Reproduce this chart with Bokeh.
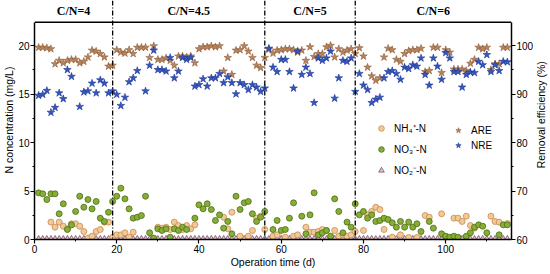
import math
import numpy as np
from bokeh.plotting import figure
from bokeh.layouts import row
from bokeh.models import (Range1d, LinearAxis, Legend, LegendItem, Label, Span,
                          SingleIntervalTicker, ColumnDataSource)
from bokeh.embed import file_html
from bokeh.resources import INLINE

days = list(range(1, 116))

nh4 = [None, None, None, 1.79, 1.27, 1.79, 1.37, 1.10, 1.62, 1.62,
       1.37, 0.82, 0.14, 0.34, 0.82, 1.03, 1.79, 1.79, 0.24, 0.48,
       0.48, 0.69, 0.24, 0.75, None, None, None, None, None, 1.27,
       1.17, 1.27, 1.03, 1.79, 1.44, 1.03, 1.44, 1.10, 1.51, None,
       None, None, None, None, None, 2.30, 1.10, 2.81, None, 0.34,
       None, 0.34, 0.93, 2.20, 2.40, 1.03, None, 0.34, 0.48, None,
       0.24, None, 0.34, 0.48, None, 1.27, 0.75, 0.75, 0.82, 1.03,
       0.93, None, 0.93, 0.34, 0.48, 0.34, 0.48, 0.82, None, 0.93,
       2.54, 2.89, 3.33, 3.09, 1.03, None, 0.24, None, 0.48, None,
       0.20, None, 0.20, None, 2.47, 2.30, None, None, 2.65, None,
       None, 2.20, 2.20, 1.86, 2.40, 1.44, 1.17, None, None, None,
       2.40, 1.86, 1.79, None, 1.65]

no3 = [4.81, 4.71, 4.12, 4.71, 4.71, 2.65, 3.68, 1.03, 1.51, 2.89,
       4.46, 3.33, 4.12, 3.16, 3.92, 2.20, 1.86, 2.81, 3.92, 4.46,
       5.29, 4.19, 3.16, 2.20, 2.30, 2.47, 4.46, 0.69, 0.14, 1.10,
       0.93, 1.10, 0.24, 1.10, 0.93, 1.27, 1.03, None, 2.20, 3.57,
       3.16, 3.68, 3.09, 1.96, 2.54, 1.17, 1.86, 0.58, 4.46, 3.09,
       3.78, 3.92, 2.65, 1.86, 2.30, 2.89, None, 1.03, 1.96, 0.93,
       1.03, 2.20, 3.78, None, 2.40, 0.58, 2.54, 4.81, 0.48, 0.69,
       0.93, 0.34, 4.19, 2.89, 0.69, 1.79, 1.27, 3.68, 2.54, 2.89,
       2.20, 2.54, 1.86, 1.96, 2.20, 2.06, 1.72, 1.27, 1.86, 1.27,
       1.79, 1.27, 1.62, 0.82, None, 1.86, 1.17, None, 0.58, 0.34,
       0.24, 0.34, 0.24, None, 0.34, 0.69, 1.27, 1.51, 1.37, 0.69,
       None, None, 0.48, 1.51, 1.51]

no2 = [0.12, 0.12, 0.11, 0.12, 0.12, 0.12, 0.11, 0.12, 0.12, 0.12,
       0.12, 0.12, 0.11, 0.12, 0.12, 0.12, 0.12, 0.11, 0.12, 0.12,
       0.12, 0.12, 0.12, 0.11, 0.12, 0.12, 0.12, 0.12, 0.12, 0.11,
       0.12, 0.12, 0.12, 0.12, 0.11, 0.12, 0.12, 0.12, 0.12, 0.12,
       0.11, 0.12, 0.12, 0.12, 0.12, 0.12, 0.11, 0.12, 0.12, 0.12,
       0.12, 0.12, 0.11, 0.12, 0.12, 0.12, 0.12, 0.12, 0.11, 0.12,
       0.12, 0.12, 0.12, 0.12, 0.11, 0.12, 0.12, 0.12, 0.12, 0.12,
       0.11, 0.12, 0.12, 0.12, 0.12, 0.12, 0.11, 0.12, 0.12, 0.12,
       0.12, 0.12, 0.11, 0.12, 0.12, 0.12, 0.12, 0.12, 0.11, 0.12,
       0.12, 0.12, 0.12, 0.12, 0.11, 0.12, 0.12, 0.12, 0.12, 0.12,
       0.11, 0.12, 0.12, 0.12, 0.12, 0.12, 0.11, 0.12, 0.12, 0.12,
       0.12, 0.12, 0.11, 0.12, 0.12]

are = [99.6, 99.6, 99.5, 99.3, 96.2, 96.9, 96.4, 96.9, 97.1, 97.1,
       96.4, 96.7, 97.6, 99.0, 98.8, 98.3, 97.6, 95.7, 95.9, 99.1,
       98.6, 98.4, 99.1, 98.3, 99.6, 99.6, 99.6, 97.5, 99.9, 97.1,
       97.1, 97.4, 96.9, 95.9, 97.8, 97.8, 97.6, 97.8, 96.4, 99.3,
       99.7, 99.7, 99.9, 99.7, 99.9, 94.7, 97.5, 94.0, 99.0, 99.1,
       99.9, 98.8, 97.5, 95.9, 95.4, 97.5, 99.2, 98.4, 99.0, 99.1,
       99.3, 99.3, 99.1, 98.6, 99.0, 96.9, 99.7, 97.7, 98.3, 98.3,
       99.7, 100.0, 97.6, 99.3, 98.6, 99.0, 99.3, 98.3, 99.5, 97.8,
       95.5, 93.7, 92.8, 93.3, 97.6, 99.4, 99.1, 97.1, 96.7, 98.3,
       98.9, 99.1, 99.1, 99.4, 94.6, 94.8, 99.6, 99.6, 94.4, 99.1,
       98.6, 95.1, 95.1, 95.1, 94.8, 96.3, 97.1, 99.6, 99.3, 99.6,
       95.0, 96.2, 96.2, 99.6, 99.6]

nre = [89.7, 89.9, 90.7, 86.2, 87.2, 90.2, 89.0, 95.0, 93.6, None,
       87.4, 90.4, 90.6, 92.2, 90.2, 92.9, 92.2, 90.2, 90.6, 89.9,
       87.6, 89.3, 92.5, 93.3, 94.8, None, 90.6, 95.9, 99.0, 95.0,
       95.0, 94.7, 97.5, 93.3, 94.7, 97.5, 97.1, 97.5, 91.6, 91.9,
       93.1, 91.6, 93.3, 93.3, 94.2, 92.3, 93.5, 92.3, 90.0, 92.3,
       91.9, 90.9, 91.9, 91.4, 90.5, 91.2, 99.4, 95.5, 94.6, 97.1,
       97.1, 94.6, 91.2, 98.8, 94.0, 95.5, 94.2, 88.2, 97.4, 96.9,
       97.4, 98.8, 89.1, 93.3, 96.9, 96.7, 97.4, 90.5, 94.2, 91.8,
       90.9, 88.2, 88.9, 89.3, 93.3, 94.6, 94.8, 94.2, 93.0, 95.5,
       95.2, 96.0, 95.7, 97.4, 94.0, 91.8, 97.4, 95.7, 93.0, 98.5,
       97.4, 94.6, 94.6, 91.4, 94.0, 94.5, 94.4, 96.7, 96.0, 98.1,
       94.6, 96.0, 94.8, 96.7, 96.6]

phase_bounds = [0, 19, 56, 78, 116]
phase_labels = ["C/N=4", "C/N=4.5", "C/N=5", "C/N=6"]

conc_axis = (0, 22.4)      # left axis extent (mg/L)
eff_axis = (60, 104.8)     # right axis extent (%)
conc_view_top = 24.64      # frame extends above the axes to hold the phase labels
eff_view_top = eff_axis[0] + (eff_axis[1] - eff_axis[0]) / (conc_axis[1] - conc_axis[0]) * conc_view_top

src = ColumnDataSource(dict(
    day=days,
    nh4=np.array(nh4, dtype=float), no3=np.array(no3, dtype=float),
    no2=np.array(no2, dtype=float), are=np.array(are, dtype=float),
    nre=np.array(nre, dtype=float)))

p = figure(width=536, height=274, output_backend="svg", toolbar_location=None,
           x_range=Range1d(phase_bounds[0], phase_bounds[-1]),
           y_range=Range1d(conc_axis[0], conc_view_top),
           min_border_left=32, min_border_right=21, min_border_top=0,
           min_border_bottom=35)
p.extra_y_ranges = {"eff": Range1d(eff_axis[0], eff_view_top)}
p.xgrid.visible = False
p.ygrid.visible = False
p.outline_line_color = None
p.background_fill_color = "white"
p.border_fill_color = "white"

FONT = "Liberation Sans"

def style_axis(ax, interval):
    ax.ticker = SingleIntervalTicker(interval=interval, num_minor_ticks=2)
    ax.axis_line_width = 1.5
    ax.axis_line_color = "black"
    ax.major_tick_line_color = "black"
    ax.minor_tick_line_color = "black"
    ax.major_tick_line_width = 1.2
    ax.major_tick_out = 4
    ax.major_tick_in = 0
    ax.minor_tick_out = 2
    ax.minor_tick_in = 0
    ax.major_label_text_font = FONT
    ax.major_label_text_font_size = "10px"
    ax.major_label_text_color = "black"
    ax.major_label_standoff = 1
    ax.axis_label_text_font = FONT
    ax.axis_label_text_font_size = "10.5px"
    ax.axis_label_text_font_style = "normal"
    ax.axis_label_text_color = "black"
    ax.axis_label_standoff = 0

style_axis(p.xaxis[0], 20)
p.xaxis[0].axis_label = "Operation time (d)"
style_axis(p.yaxis[0], 5)
p.yaxis[0].axis_label = "N concentration (mg/L)"
p.yaxis[0].bounds = conc_axis

right = LinearAxis(y_range_name="eff")
style_axis(right, 10)
right.bounds = eff_axis
p.add_layout(right, "right")

# top border of the plotting box
p.add_layout(Span(location=conc_axis[1], dimension="width",
                  line_color="black", line_width=1.5))

r_no2 = p.scatter("day", "no2", source=src, marker="triangle", size=5,
                  fill_color="#e2c4d2", line_color="#6a3a52", line_width=0.7)
r_nh4 = p.scatter("day", "nh4", source=src, marker="circle", size=6,
                  fill_color="#f1c997", line_color="#c98a4e", line_width=0.8)
r_no3 = p.scatter("day", "no3", source=src, marker="circle", size=6,
                  fill_color="#86ad35", line_color="#4c6d14", line_width=0.8)
r_are = p.scatter("day", "are", source=src, marker="star", size=8,
                  y_range_name="eff",
                  fill_color="#b8845c", line_color="#8e5c38", line_width=0.6)
r_nre = p.scatter("day", "nre", source=src, marker="star", size=8,
                  y_range_name="eff",
                  fill_color="#3456c0", line_color="#1d3590", line_width=0.6)

# phase separators (dash-dot), full frame height
for b in phase_bounds[1:-1]:
    p.add_layout(Span(location=b, dimension="height", line_color="black",
                      line_width=1.3, line_dash="5 2 1 2"))

# phase labels above the box
for i, txt in enumerate(phase_labels):
    mid = (phase_bounds[i] + phase_bounds[i + 1]) / 2
    p.add_layout(Label(x=mid, y=(conc_axis[1] + conc_view_top) / 2 + 0.05, text=txt,
                       text_font="Liberation Serif", text_font_style="bold",
                       text_font_size="12px", text_align="center",
                       text_baseline="middle", text_color="black"))

def mk_legend(items, loc, gh, spacing):
    return Legend(items=items, location=loc, orientation="vertical",
                  background_fill_alpha=0, border_line_alpha=0,
                  padding=0, margin=0, spacing=spacing,
                  glyph_width=14, glyph_height=gh, label_height=gh,
                  label_standoff=6, label_text_font=FONT,
                  label_text_font_size="10px", label_text_color="black")

leg1 = mk_legend([LegendItem(label="NH\u2084\u207a-N", renderers=[r_nh4]),
                  LegendItem(label="NO\u2083\u207b-N", renderers=[r_no3]),
                  LegendItem(label="NO\u2082\u207b-N", renderers=[r_no2])],
                 (340, 60), 18, 3)
leg2 = mk_legend([LegendItem(label="ARE", renderers=[r_are]),
                  LegendItem(label="NRE", renderers=[r_nre])],
                 (417, 87), 14, 1)
p.add_layout(leg1, "center")
p.add_layout(leg2, "center")

# right-hand axis title, reading bottom-to-top, in a narrow strip
side = figure(width=14, height=274, output_backend="svg", toolbar_location=None,
              x_range=Range1d(0, 14), y_range=Range1d(0, 274),
              x_axis_location=None, y_axis_location=None,
              min_border=0, outline_line_color=None)
side.grid.visible = False
side.add_layout(Label(x=4.5, y=143, text="Removal efficiency (%)",
                      angle=math.pi / 2, angle_units="rad",
                      text_align="center", text_baseline="middle",
                      text_font=FONT, text_font_size="10.5px",
                      text_color="black"))

layout = row(p, side)
open("out.html", "w").write(file_html(layout, INLINE))
